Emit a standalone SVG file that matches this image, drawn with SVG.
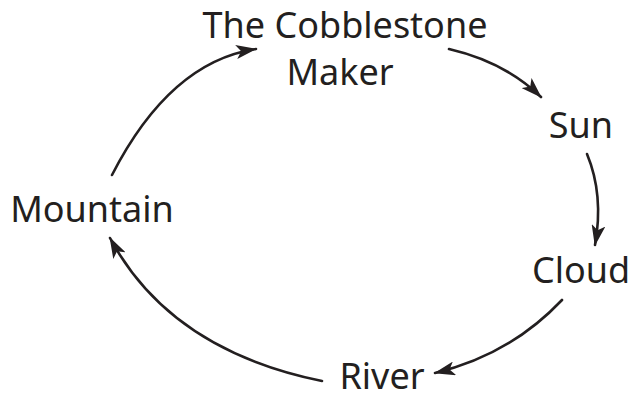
<svg xmlns="http://www.w3.org/2000/svg" width="630" height="400" viewBox="0 0 630 400">
<style>
  .lbl { font-family: "Comic Sans MS", "Noto Sans", "DejaVu Sans", sans-serif; font-size: 36px; fill: #231f20; text-anchor: middle; }
  .edge { fill: none; stroke: #231f20; stroke-width: 2.6; stroke-linecap: round; }
</style>
<defs>
  <marker id="ah" markerUnits="userSpaceOnUse" markerWidth="22" markerHeight="14" refX="20" refY="7" orient="auto">
    <path d="M0,0 L21,7 L0,14 L5,7 Z" fill="#231f20"/>
  </marker>
</defs>
<rect width="630" height="400" fill="#ffffff"/>
<g id="connectors">
  <path class="edge" d="M112,175 Q170,62 256,49" marker-end="url(#ah)"/>
  <path class="edge" d="M449,49 Q505,62 541,97" marker-end="url(#ah)"/>
  <path class="edge" d="M587,154 Q604,195 595,245" marker-end="url(#ah)"/>
  <path class="edge" d="M562,300 Q510,355 435,373" marker-end="url(#ah)"/>
  <path class="edge" d="M322,381 Q170,350 110,238" marker-end="url(#ah)"/>
</g>
<g id="node-cobblestone">
  <text class="lbl" x="345" y="38">The Cobblestone</text>
  <text class="lbl" x="340" y="85">Maker</text>
</g>
<g id="node-sun"><text class="lbl" x="581" y="138">Sun</text></g>
<g id="node-cloud"><text class="lbl" x="581" y="283">Cloud</text></g>
<g id="node-river"><text class="lbl" x="382" y="389">River</text></g>
<g id="node-mountain"><text class="lbl" x="92" y="222">Mountain</text></g>
</svg>
